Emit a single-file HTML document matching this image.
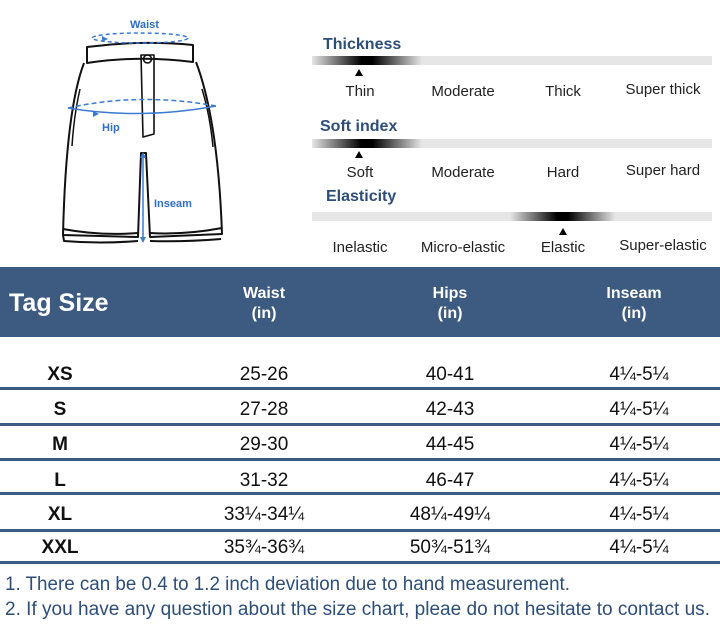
<!DOCTYPE html>
<html><head><meta charset="utf-8"><style>
body{margin:0;background:#fff;width:720px;height:625px;overflow:hidden}
svg{display:block}
</style></head><body>
<svg width="720" height="625" viewBox="0 0 720 625" xmlns="http://www.w3.org/2000/svg" font-family="Liberation Sans, sans-serif">
<!-- pants -->
<g fill="none" stroke="#111" stroke-width="2" stroke-linejoin="round">
<path d="M87 47 Q140 40 193 45 L193 62 Q140 55 87 63 Z"/>
<path d="M84 63 Q66 110 63 235 L138 237 L141 153 L146 153 L150 237 L222 234 Q218 120 196 62"/>
<path d="M63 229 Q100 236 138 233"/><path d="M150 233 Q185 235 222 228"/>
<path d="M63 235 L64 241 Q100 244 138 241"/><path d="M150 241 Q185 242 221 239"/>
<path d="M141 55 L154 55 L154 134 L143 137 Z" stroke-width="1.6"/>
<circle cx="147.5" cy="59" r="4" stroke-width="1.5"/>
<path d="M80 89 Q74 115 72 146" stroke-width="1.5"/><path d="M202 89 Q210 115 213 147" stroke-width="1.5"/>
</g>
<g fill="none" stroke="#3a7bd5" stroke-width="1.5">
<ellipse cx="140" cy="38" rx="48" ry="5" stroke-dasharray="4,3"/>
<path d="M68 108 Q140 120 216 106" /><path d="M68 108 Q140 92 216 106" stroke-dasharray="5,3"/>
<path d="M143 155 L143 240"/>
</g>
<g fill="#3a7bd5"><path d="M108 39 l-6 -3 v6z"/><path d="M99 114 l-6 -3 v6z"/><path d="M143 152 l-3 6 h6z"/><path d="M143 243 l-3 -6 h6z"/></g>
<g fill="#2f6fc7" font-weight="bold" font-size="11">
<text x="130" y="28">Waist</text><text x="102" y="131">Hip</text><text x="154" y="207">Inseam</text></g>
<!-- bars -->
<defs><linearGradient id="g" x1="0" x2="1"><stop offset="0" stop-color="#e6e6e6"/><stop offset="0.45" stop-color="#000"/><stop offset="0.55" stop-color="#000"/><stop offset="1" stop-color="#e6e6e6"/></linearGradient></defs>
<g font-weight="bold" font-size="16" fill="#2e4e7a">
<text x="323" y="49">Thickness</text><text x="320" y="131">Soft index</text><text x="326" y="201">Elasticity</text></g>
<rect x="312" y="56" width="400" height="9" fill="#e6e6e6"/><rect x="312" y="56" width="110" height="9" fill="url(#g)"/>
<rect x="312" y="139" width="400" height="9" fill="#e6e6e6"/><rect x="312" y="139" width="110" height="9" fill="url(#g)"/>
<rect x="312" y="212" width="400" height="9" fill="#e6e6e6"/><rect x="510" y="212" width="105" height="9" fill="url(#g)"/>
<g fill="#000"><path d="M359 69 l-4 7 h8z"/><path d="M359 151 l-4 7 h8z"/><path d="M563 228 l-4 7 h8z"/></g>
<g font-size="15" fill="#222" text-anchor="middle">
<text x="360" y="96">Thin</text><text x="463" y="96">Moderate</text><text x="563" y="96">Thick</text><text x="663" y="94">Super thick</text>
<text x="360" y="177">Soft</text><text x="463" y="177">Moderate</text><text x="563" y="177">Hard</text><text x="663" y="175">Super hard</text>
<text x="360" y="252">Inelastic</text><text x="463" y="252">Micro-elastic</text><text x="563" y="252">Elastic</text><text x="663" y="250">Super-elastic</text></g>
<!-- table -->
<rect x="0" y="267" width="720" height="70" fill="#3d5a80"/>
<text x="9" y="311" fill="#fff" font-weight="bold" font-size="25">Tag Size</text>
<g fill="#fff" font-weight="bold" font-size="16" text-anchor="middle">
<text x="264" y="298">Waist</text><text x="264" y="318">(in)</text>
<text x="450" y="298">Hips</text><text x="450" y="318">(in)</text>
<text x="634" y="298">Inseam</text><text x="634" y="318">(in)</text></g>
<g fill="#3d5a80"><rect x="0" y="387" width="720" height="3"/><rect x="0" y="423" width="720" height="3"/><rect x="0" y="458" width="720" height="3"/><rect x="0" y="492" width="720" height="3"/><rect x="0" y="529" width="720" height="3"/><rect x="0" y="561" width="720" height="3"/></g>
<g font-size="19" fill="#111" text-anchor="middle">
<g font-weight="bold"><text x="60" y="380">XS</text><text x="60" y="415">S</text><text x="60" y="450">M</text><text x="60" y="486">L</text><text x="60" y="520">XL</text><text x="60" y="553">XXL</text></g>
<text x="264" y="380">25-26</text><text x="450" y="380">40-41</text><text x="639" y="380">4¼-5¼</text>
<text x="264" y="415">27-28</text><text x="450" y="415">42-43</text><text x="639" y="415">4¼-5¼</text>
<text x="264" y="450">29-30</text><text x="450" y="450">44-45</text><text x="639" y="450">4¼-5¼</text>
<text x="264" y="486">31-32</text><text x="450" y="486">46-47</text><text x="639" y="486">4¼-5¼</text>
<text x="264" y="520">33¼-34¼</text><text x="450" y="520">48¼-49¼</text><text x="639" y="520">4¼-5¼</text>
<text x="264" y="553">35¾-36¾</text><text x="450" y="553">50¾-51¾</text><text x="639" y="553">4¼-5¼</text></g>
<g font-size="19" fill="#2e4e7a">
<text x="5" y="590" textLength="565" lengthAdjust="spacingAndGlyphs">1. There can be 0.4 to 1.2 inch deviation due to hand measurement.</text>
<text x="5" y="615" textLength="705" lengthAdjust="spacingAndGlyphs">2. If you have any question about the size chart, pleae do not hesitate to contact us.</text></g>
</svg>
</body></html>
